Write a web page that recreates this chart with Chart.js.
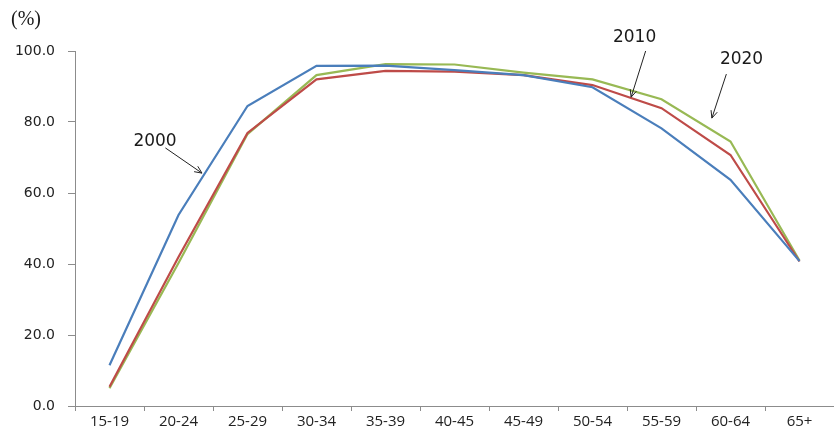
<!DOCTYPE html>
<html>
<head>
<meta charset="utf-8">
<script src="https://cdn.jsdelivr.net/npm/chart.js@4.4.1/dist/chart.umd.min.js"></script>
<style>
  html, body { margin: 0; padding: 0; background: #fff; }
  #wrap { position: relative; width: 834px; height: 435px; }
</style>
</head>
<body>
<div id="wrap"><canvas id="c" width="834" height="435"></canvas></div>
<script>
// Age groups on the category axis
const ageGroups = ['15-19', '20-24', '25-29', '30-34', '35-39', '40-45', '45-49', '50-54', '55-59', '60-64', '65+'];

// Participation rate (%) by age group, per census year
const rate2000 = [11.5, 53.8, 84.5, 95.8, 95.9, 94.6, 93.2, 89.8, 78.2, 63.7, 40.8];
const rate2010 = [5.4, 42.0, 76.9, 92.0, 94.4, 94.2, 93.2, 90.4, 83.9, 70.7, 40.7];
const rate2020 = [5.0, 40.3, 76.6, 93.2, 96.3, 96.2, 93.9, 92.0, 86.4, 74.5, 41.0];

// Value axis ticks
const yTicks = [0, 20, 40, 60, 80, 100];

// Year callouts: label position and arrow (tail -> head), in category index / value units
const callouts = [
  { text: '2000', label: [0.66, 74.6], tail: [0.81, 72.7], head: [1.34, 65.6] },
  { text: '2010', label: [7.61, 103.9], tail: [7.77, 100.0], head: [7.56, 87.0] },
  { text: '2020', label: [9.16, 97.7], tail: [8.94, 93.5], head: [8.73, 81.1] }
];

const axisGrey = '#8c8c8c';

const calloutPlugin = {
  id: 'callouts',
  afterDatasetsDraw(chart) {
    const { ctx, scales } = chart;
    const xs = scales.x, ys = scales.y;
    const x0 = xs.getPixelForValue(0);
    const step = xs.getPixelForValue(1) - x0;
    const px = p => [x0 + p[0] * step, ys.getPixelForValue(p[1])];
    ctx.save();
    ctx.fillStyle = '#1a1a1a';
    ctx.strokeStyle = '#222';
    ctx.lineWidth = 1;
    ctx.font = '17px "DejaVu Sans"';
    ctx.textAlign = 'center';
    ctx.textBaseline = 'middle';
    callouts.forEach(c => {
      const [lx, ly] = px(c.label);
      ctx.fillText(c.text, lx, ly);
      const [tx, ty] = px(c.tail);
      const [hx, hy] = px(c.head);
      ctx.beginPath();
      ctx.moveTo(tx, ty);
      ctx.lineTo(hx, hy);
      ctx.stroke();
      const ang = Math.atan2(hy - ty, hx - tx);
      const len = 8, spread = 0.42;
      ctx.beginPath();
      ctx.moveTo(hx - len * Math.cos(ang - spread), hy - len * Math.sin(ang - spread));
      ctx.lineTo(hx, hy);
      ctx.lineTo(hx - len * Math.cos(ang + spread), hy - len * Math.sin(ang + spread));
      ctx.stroke();
    });
    // unit label above the value axis
    ctx.font = '20px "Liberation Serif"';
    ctx.textAlign = 'left';
    ctx.fillText('(%)', 11, 20);
    ctx.restore();
  }
};

new Chart(document.getElementById('c'), {
  type: 'line',
  data: {
    labels: ageGroups,
    datasets: [
      { label: '2000', data: rate2000, borderColor: '#4a7ebb' },
      { label: '2010', data: rate2010, borderColor: '#be4b48' },
      { label: '2020', data: rate2020, borderColor: '#98b954' }
    ].map(d => Object.assign(d, { borderWidth: 2.2, pointRadius: 0, tension: 0, fill: false }))
  },
  options: {
    responsive: false,
    animation: false,
    devicePixelRatio: 1,
    layout: { padding: { top: 51, right: 0, bottom: 0, left: 0 } },
    plugins: { legend: { display: false }, tooltip: { enabled: false } },
    scales: {
      x: {
        type: 'category',
        offset: true,
        grid: { display: true, offset: true, drawOnChartArea: false, drawTicks: true, tickLength: 5, color: axisGrey },
        border: { display: true, color: axisGrey, width: 1 },
        ticks: { color: '#222', font: { family: 'Open Sans', size: 15 }, padding: 2, maxRotation: 0, autoSkip: false },
        afterFit(s) { s.height = 29; }
      },
      y: {
        min: 0, max: 100,
        afterBuildTicks(s) { s.ticks = yTicks.map(v => ({ value: v })); },
        grid: { display: true, drawOnChartArea: false, drawTicks: true, tickLength: 7, color: axisGrey },
        border: { display: true, color: axisGrey, width: 1 },
        ticks: { color: '#222', font: { family: 'DejaVu Sans', size: 14 }, padding: 13, callback: v => Number(v).toFixed(1) },
        afterFit(s) { s.width = 75; }
      }
    }
  },
  plugins: [calloutPlugin]
});
</script>
</body>
</html>
